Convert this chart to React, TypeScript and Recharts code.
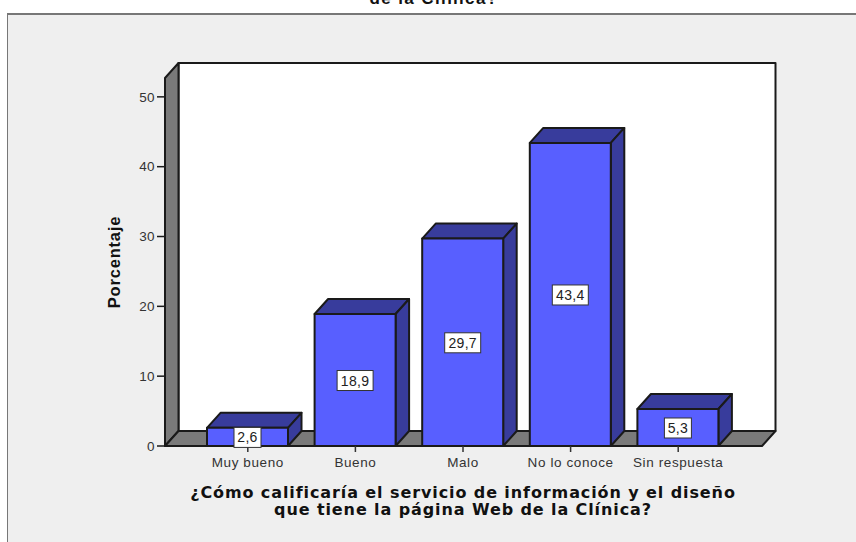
import { Bar, BarChart, LabelList, ReferenceArea, XAxis, YAxis } from "recharts";

const categories = ["Muy bueno", "Bueno", "Malo", "No lo conoce", "Sin respuesta"];
const percentages = [2.6, 18.9, 29.7, 43.4, 5.3];
const yTicks = [0, 10, 20, 30, 40, 50];

const rows = categories.map((name, i) => ({ name, value: percentages[i] }));

const PAD_LEFT = 29;
const PAD_RIGHT = 30;
const DEPTH_X = 13.5;
const DEPTH_Y = 15;
const FRONT = "#585FFF";
const SHADE = "#383C9C";
const WALL = "#7A7A7A";
const EDGE = "#1A1A1A";
const FONT = "'Liberation Sans', Arial, sans-serif";
const TITLE_FONT = "'DejaVu Sans', Verdana, sans-serif";

// Box walls behind the bars. The area spans the category band only, so widen it by the axis padding.
function Walls({ x: bandX, y, width: bandW, height }: any) {
  const x = bandX - PAD_LEFT;
  const width = bandW + PAD_LEFT + PAD_RIGHT;
  const r = x + width;
  const b = y + height;
  return (
    <g stroke={EDGE} strokeWidth={2} strokeLinejoin="round">
      <rect x={x + DEPTH_X} y={y - DEPTH_Y} width={width} height={height} fill="#fff" />
      <polygon
        points={`${x},${y} ${x + DEPTH_X},${y - DEPTH_Y} ${x + DEPTH_X},${b - DEPTH_Y} ${x},${b}`}
        fill={WALL}
      />
      <polygon
        points={`${x},${b} ${x + DEPTH_X},${b - DEPTH_Y} ${r + DEPTH_X},${b - DEPTH_Y} ${r},${b}`}
        fill={WALL}
      />
    </g>
  );
}

function Bar3D({ x, y, width, height }: any) {
  const r = x + width;
  const b = y + height;
  return (
    <g stroke={EDGE} strokeWidth={2} strokeLinejoin="round">
      <polygon
        points={`${x},${y} ${x + DEPTH_X},${y - DEPTH_Y} ${r + DEPTH_X},${y - DEPTH_Y} ${r},${y}`}
        fill={SHADE}
      />
      <polygon
        points={`${r},${y} ${r + DEPTH_X},${y - DEPTH_Y} ${r + DEPTH_X},${b - DEPTH_Y} ${r},${b}`}
        fill={SHADE}
      />
      <rect x={x} y={y} width={width} height={height} fill={FRONT} />
    </g>
  );
}

function ValueBox({ x, y, width, height, value }: any) {
  const text = String(value).replace(".", ",");
  const boxW = text.length > 3 ? 36 : 27;
  const cx = x + width / 2;
  const cy = y + height / 2;
  return (
    <g>
      <rect x={cx - boxW / 2} y={cy - 9.5} width={boxW} height={20} fill="#fff" stroke="#333" strokeWidth={1} />
      <text x={cx} y={cy + 5.5} textAnchor="middle" fontFamily={FONT} fontSize={14} letterSpacing={0.3} fill="#222">
        {text}
      </text>
    </g>
  );
}

export default function App() {
  return (
    <div style={{ position: "absolute", left: 0, top: 0, width: 856, height: 542, background: "#fff", overflow: "hidden" }}>
      <div
        style={{
          position: "absolute",
          left: 7,
          top: 13,
          width: 860,
          height: 540,
          background: "#EFEFEF",
          borderLeft: "1px solid #777",
          borderTop: "2px solid #777",
        }}
      />
      <BarChart
        width={856}
        height={542}
        data={rows}
        margin={{ top: 78, right: 94, bottom: 0, left: 100 }}
        style={{ position: "absolute", left: 0, top: 0 }}
      >
        <XAxis
          dataKey="name"
          height={96}
          padding={{ left: PAD_LEFT, right: PAD_RIGHT }}
          interval={0}
          tickSize={6}
          tickMargin={5}
          axisLine={{ stroke: EDGE, strokeWidth: 2 }}
          tickLine={{ stroke: "#333", strokeWidth: 1.5 }}
          tick={{ fontFamily: FONT, fontSize: 13.5, letterSpacing: 0.6, fill: "#333" }}
        />
        <YAxis
          width={65}
          domain={[0, 52.7]}
          ticks={yTicks}
          tickSize={8}
          tickMargin={2}
          axisLine={{ stroke: EDGE, strokeWidth: 2 }}
          tickLine={{ stroke: EDGE, strokeWidth: 1.5 }}
          tick={{ fontFamily: FONT, fontSize: 13.5, letterSpacing: 0.4, fill: "#333" }}
        />
        <ReferenceArea y1={0} y2={52.7} shape={<Walls />} ifOverflow="extendDomain" />
        <Bar dataKey="value" barSize={81} shape={<Bar3D />} isAnimationActive={false}>
          <LabelList dataKey="value" content={<ValueBox />} />
        </Bar>
        <text x={434} y={4} textAnchor="middle" fontFamily={FONT} fontWeight="bold" fontSize={17} letterSpacing={1.4} fill="#111">
          de la Clínica?
        </text>
        <text
          x={120}
          y={262}
          transform="rotate(-90 120 262)"
          textAnchor="middle"
          fontFamily={FONT}
          fontWeight="bold"
          fontSize={16.5}
          letterSpacing={0.8}
          fill="#111"
        >
          Porcentaje
        </text>
        <text x={463} y={498} textAnchor="middle" fontFamily={TITLE_FONT} fontWeight="bold" fontSize={16} letterSpacing={0.9} fill="#111">
          ¿Cómo calificaría el servicio de información y el diseño
        </text>
        <text x={463} y={515} textAnchor="middle" fontFamily={TITLE_FONT} fontWeight="bold" fontSize={16} letterSpacing={0.9} fill="#111">
          que tiene la página Web de la Clínica?
        </text>
      </BarChart>
    </div>
  );
}
